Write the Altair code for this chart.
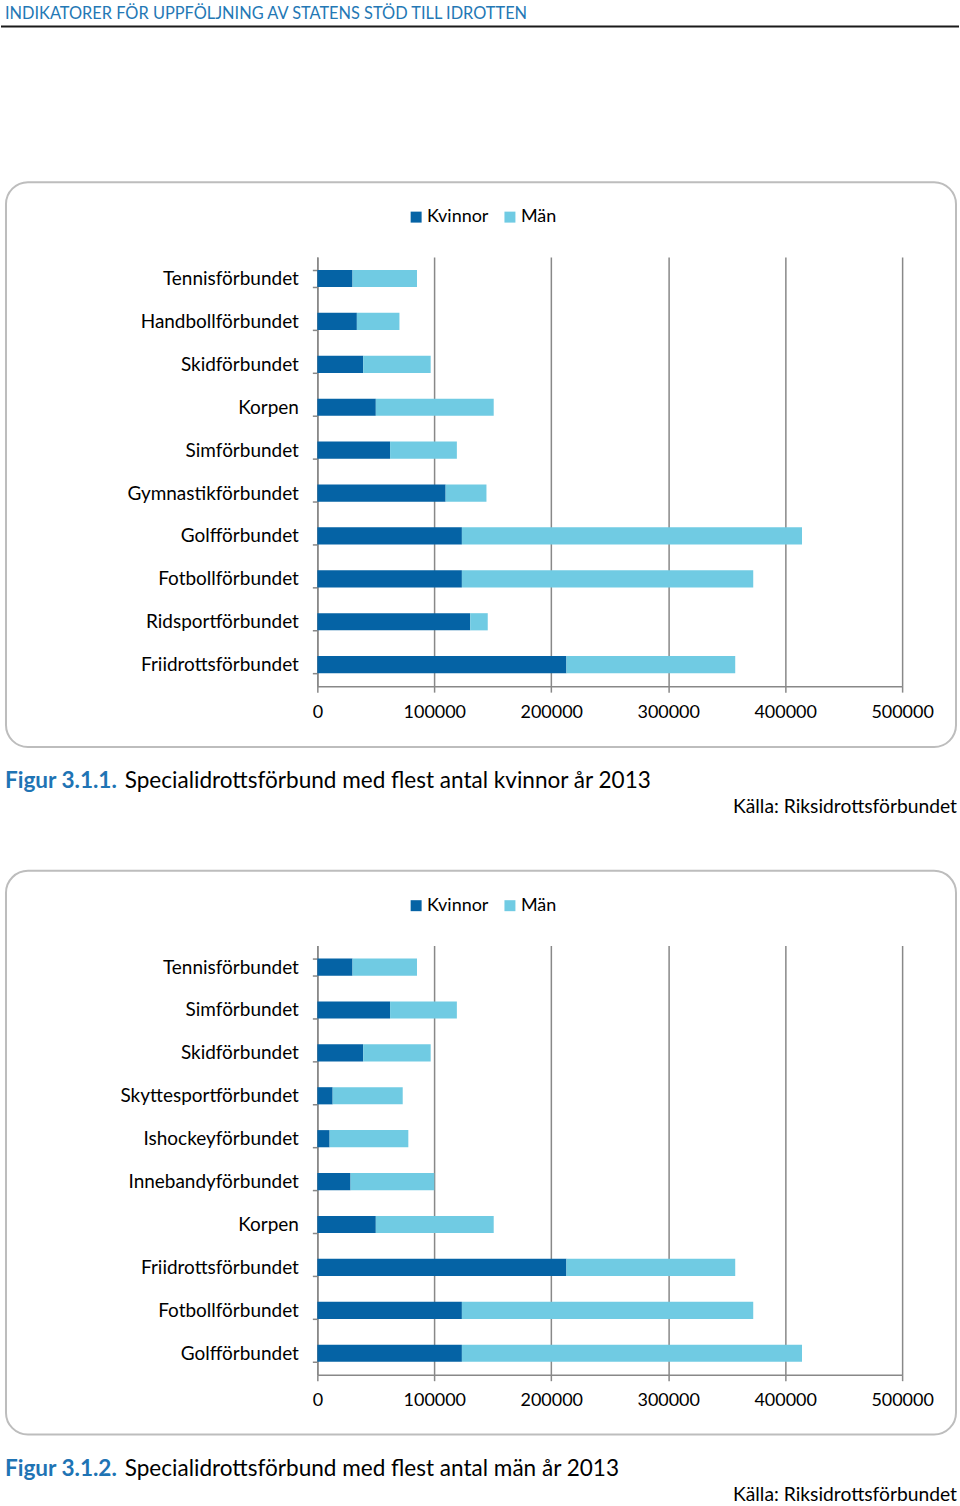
import altair as alt
import pandas as pd

# ---------------- data ----------------
cats1 = ["Tennisförbundet", "Handbollförbundet", "Skidförbundet", "Korpen",
         "Simförbundet", "Gymnastikförbundet", "Golfförbundet",
         "Fotbollförbundet", "Ridsportförbundet", "Friidrottsförbundet"]
kvinnor1 = [30100, 33800, 39200, 50000, 62200, 109700, 123600, 123600, 130700, 213000]
man1 = [55100, 36400, 57700, 100800, 57100, 34900, 290800, 249100, 15000, 144300]

cats2 = ["Tennisförbundet", "Simförbundet", "Skidförbundet", "Skyttesportförbundet",
         "Ishockeyförbundet", "Innebandyförbundet", "Korpen",
         "Friidrottsförbundet", "Fotbollförbundet", "Golfförbundet"]
kvinnor2 = [30100, 62200, 39200, 13100, 10500, 28400, 50000, 213000, 123600, 123600]
man2 = [55100, 57100, 57700, 59900, 67300, 71600, 100800, 144300, 249100, 290800]

series = ["Kvinnor", "Män"]
colors = ["#0563a5", "#70cbe3"]
x_ticks = [0, 100000, 200000, 300000, 400000, 500000]

header = "INDIKATORER FÖR UPPFÖLJNING AV STATENS STÖD TILL IDROTTEN"
fig1_num = "Figur 3.1.1."
fig1_text = "Specialidrottsförbund med flest antal kvinnor år 2013"
fig2_num = "Figur 3.1.2."
fig2_text = "Specialidrottsförbund med flest antal män år 2013"
source = "Källa: Riksidrottsförbundet"

FONT = "Lato"
W, H = 586, 430
OX = 317
OY1, OY2 = 256, 946
GRID = "#888888"
one = pd.DataFrame({"d": [0]})


def long_df(cats, k, m):
    rows = []
    for c, a, b in zip(cats, k, m):
        rows.append({"Förbund": c, "Kön": series[0], "Antal": a, "ord": 0})
        rows.append({"Förbund": c, "Kön": series[1], "Antal": b, "ord": 1})
    return pd.DataFrame(rows)


def text_layer(txt, px, py, oy, size, color="#000000", weight="normal", align="left"):
    return alt.Chart(one).mark_text(
        text=txt, font=FONT, fontSize=size, fontWeight=weight, color=color,
        align=align, baseline="middle"
    ).encode(x=alt.value(px - OX), y=alt.value(py - oy))


def panel(cats, k, m, oy, top, bottom, num, txt, cap_y, src_y, first):
    df = long_df(cats, k, m)
    bars = alt.Chart(df).mark_bar().encode(
        x=alt.X("Antal:Q", stack="zero",
                scale=alt.Scale(domain=[0, 500000], nice=False),
                axis=alt.Axis(values=x_ticks, format="d", title=None, grid=True,
                              gridColor=GRID, gridWidth=1.5, domainColor=GRID,
                              domainWidth=1.5, tickColor=GRID, tickWidth=1.5,
                              tickSize=6, labelFont=FONT, labelFontSize=18,
                              labelColor="#000000", labelPadding=11,
                              labelFlush=False, labelOverlap=False)),
        y=alt.Y("Förbund:N", sort=cats,
                scale=alt.Scale(paddingInner=0.6, paddingOuter=0.3),
                axis=alt.Axis(title=None, tickBand="extent", domainColor=GRID,
                              domainWidth=1.5, tickColor=GRID, tickWidth=1.5,
                              tickSize=5, labelFont=FONT, labelFontSize=19,
                              labelColor="#000000", labelPadding=14,
                              labelLimit=300)),
        color=alt.Color("Kön:N", scale=alt.Scale(domain=series, range=colors),
                        legend=alt.Legend(orient="none", direction="horizontal",
                                          legendX=90, legendY=-49, title=None,
                                          symbolType="square", symbolSize=121,
                                          symbolStrokeWidth=0, labelFont=FONT,
                                          labelFontSize=18, labelColor="#000000",
                                          labelOffset=2, columnPadding=12)),
        order=alt.Order("ord:Q"),
    )
    border = alt.Chart(one).mark_rect(
        fillOpacity=0, stroke="#bdbdbd", strokeWidth=2, cornerRadius=22
    ).encode(x=alt.value(5 - OX), x2=alt.value(957 - OX),
             y=alt.value(top - oy), y2=alt.value(bottom - oy))
    layers = []
    if first:
        bg = alt.Chart(one).mark_rect(fill="white", opacity=0).encode(
            x=alt.value(-OX), x2=alt.value(960 - OX),
            y=alt.value(-oy), y2=alt.value(1506 - oy))
        line = alt.Chart(one).mark_rule(color="#1a1a1a", strokeWidth=2).encode(
            x=alt.value(-OX), x2=alt.value(960 - OX), y=alt.value(25 - oy))
        layers += [bg, line, text_layer(header, 4, 12, oy, 16.4, color="#2478b5")]
    layers += [border, bars,
               text_layer(num, 4, cap_y, oy, 22.6, color="#1f74b4", weight="bold"),
               text_layer(txt, 124, cap_y, oy, 22.6),
               text_layer(source, 958, src_y, oy, 19.3, align="right")]
    return alt.layer(*layers).properties(width=W, height=H)


c1 = panel(cats1, kvinnor1, man1, OY1, 181, 747, fig1_num, fig1_text, 781, 807, True)
c2 = panel(cats2, kvinnor2, man2, OY2, 871, 1436, fig2_num, fig2_text, 1471, 1497, False)

chart = alt.vconcat(c1, c2, spacing=OY2 - OY1 - H, bounds="flush").resolve_scale(
    y="independent", color="independent"
).resolve_legend(color="independent").properties(padding=0).configure_view(
    strokeWidth=0
)

chart.save("out.html", embed_options={"renderer": "svg", "actions": False})
